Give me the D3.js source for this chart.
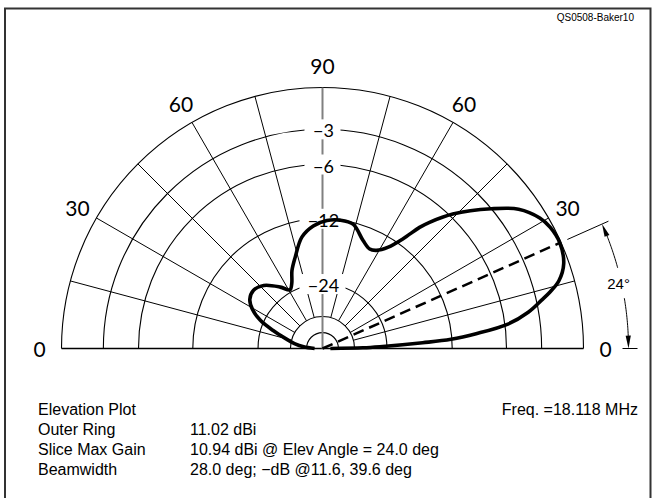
<!DOCTYPE html>
<html><head><meta charset="utf-8">
<script src="https://cdn.jsdelivr.net/npm/d3@7"></script>
<style>
html,body{margin:0;padding:0;background:#fff;}
svg{display:block;}
</style></head>
<body>
<svg id="chart" width="656" height="498"></svg>
<script>
// ---- data ----
const outerRingDbi = 11.02;
const elevAngles = [0, 1, 1.8, 3.3, 4.1, 5.5, 7.5, 10, 12.4, 14, 16, 19.4, 24, 28, 31, 35.4, 39.6, 45.9, 49.7, 51.3, 53.7, 57, 61.2, 64.6, 69.4, 76.2, 82.2, 88, 94.3, 100.5, 106.7, 111.4, 115.3, 119, 124.5, 133, 139.8, 146, 151, 155.6, 160, 165, 170, 175, 180];
const gainDbi =    [-88, -21, -15, -5.4, -1.1, 2.0, 5.3, 7.2, 8.4, 9.2, 10.0, 10.67, 10.94, 10.82, 10.52, 9.62, 8.02, 5.32, 3.2, 2.1, -0.15, -2.2, -3.5, -3.8, -3.0, -1.2, -1.0, -1.2, -1.9, -3.3, -6.3, -8.5, -11.1, -12.3, -10.5, -8.0, -7.2, -7.7, -9.3, -12.0, -16.5, -22, -27, -34, -88];
const ringDb = [0, -3, -6, -12, -24, -36, -48];
const ringLabels = ["", "\u22123", "\u22126", "\u221212", "\u221224", "", ""];
const spokeAngles = [15, 30, 45, 60, 75, 105, 120, 135, 150, 165];
const angleTickPos = [0, 30, 60, 90, 120, 150, 180];
const angleTickLabels = ["0", "30", "60", "90", "60", "30", "0"];
const maxGainAngle = 24.0;
const maxGainDbi = 10.94;
const infoLabels = ["Elevation Plot", "Outer Ring", "Slice Max Gain", "Beamwidth"];
const infoValues = ["", "11.02 dBi", "10.94 dBi @ Elev Angle = 24.0 deg", "28.0 deg; \u2212dB @11.6, 39.6 deg"];
const freqText = "Freq. =18.118 MHz";
const figId = "QS0508-Baker10";

// ---- layout ----
const svg = d3.select("#chart");
const cx = 322.5, cy = 348.5, R = 261;
const rel = d3.scaleLinear().domain([-60, 0]).range([-60, 0]).clamp(true);
const r = db => R * Math.pow(0.89, -rel(db) / 2);     // ARRL log scale
const rGain = g => r(g - outerRingDbi);
const rad = a => a * Math.PI / 180;
const px = (a, rr) => cx + rr * Math.cos(rad(a));
const py = (a, rr) => cy - rr * Math.sin(rad(a));
const polarFont = "Lato, 'Noto Sans', sans-serif";

// frame
svg.append("rect").attr("x", 5).attr("y", 8.5).attr("width", 645.5).attr("height", 495)
  .attr("fill", "none").attr("stroke", "#333").attr("stroke-width", 2);

const g = svg.append("g");

// rings (semicircles)
const arc = d3.arc().startAngle(-Math.PI / 2).endAngle(Math.PI / 2);
g.selectAll("path.ring").data(ringDb).join("path")
  .attr("class", "ring")
  .attr("transform", `translate(${cx},${cy})`)
  .attr("d", d => arc({innerRadius: r(d), outerRadius: r(d)}))
  .attr("fill", "none").attr("stroke", "#000").attr("stroke-width", 1.1);

// spokes
g.selectAll("line.spoke").data(spokeAngles).join("line")
  .attr("x1", d => px(d, r(-36))).attr("y1", d => py(d, r(-36)))
  .attr("x2", d => px(d, R)).attr("y2", d => py(d, R))
  .attr("stroke", "#000").attr("stroke-width", 1);

// baseline
g.append("line").attr("x1", cx - R).attr("x2", cx + R).attr("y1", cy).attr("y2", cy)
  .attr("stroke", "#000").attr("stroke-width", 1.5);
// vertical (90) gray
g.append("line").attr("x1", cx).attr("x2", cx).attr("y1", cy).attr("y2", cy - R)
  .attr("stroke", "#808080").attr("stroke-width", 2);

// ring label gaps
const lab = ringDb.map((d, i) => ({d, t: ringLabels[i]})).filter(o => o.t);
g.selectAll("rect.gap").data(lab).join("rect")
  .attr("x", d => cx - (d.t.length > 2 ? 23 : 18)).attr("width", d => d.t.length > 2 ? 46 : 36)
  .attr("y", d => cy - r(d.d) - 10).attr("height", 20).attr("fill", "#fff");

// ring labels
g.selectAll("text.rl").data(lab).join("text")
  .attr("x", cx + 1).attr("y", d => cy - r(d.d) + 1)
  .attr("text-anchor", "middle").attr("dominant-baseline", "central")
  .attr("font-family", polarFont).attr("font-weight", 400)
  .attr("font-size", 18).attr("fill", "#000").text(d => d.t);

// pattern
const pts = elevAngles.map((a, i) => [a, gainDbi[i]]);
const line = d3.lineRadial()
  .angle(d => rad(90 - d[0]))
  .radius(d => rGain(d[1]))
  .curve(d3.curveCatmullRom.alpha(0.5));
g.append("path").datum(pts)
  .attr("transform", `translate(${cx},${cy})`)
  .attr("d", line)
  .attr("fill", "none").attr("stroke", "#000").attr("stroke-width", 3.6).attr("stroke-linejoin", "round");

// max-gain dashed line
g.append("line").attr("x1", cx).attr("y1", cy)
  .attr("x2", px(maxGainAngle, rGain(maxGainDbi))).attr("y2", py(maxGainAngle, rGain(maxGainDbi)))
  .attr("stroke", "#000").attr("stroke-width", 2.5).attr("stroke-dasharray", "11,6");

// angle labels
const LR = 283;
g.selectAll("text.al").data(angleTickPos).join("text")
  .attr("x", d => px(d, LR)).attr("y", d => py(d, LR))
  .attr("text-anchor", "middle").attr("dominant-baseline", "central")
  .attr("font-family", polarFont).attr("font-weight", 400)
  .attr("font-size", 21).attr("fill", "#000").text((d, i) => angleTickLabels[i]);

// 24 deg annotation
const ext = svg.append("g").attr("stroke", "#000").attr("stroke-width", 1);
ext.append("line").attr("x1", px(maxGainAngle, 268)).attr("y1", py(maxGainAngle, 268))
  .attr("x2", px(maxGainAngle, 313)).attr("y2", py(maxGainAngle, 313));
ext.append("line").attr("x1", px(0, 300)).attr("y1", py(0, 300))
  .attr("x2", px(0, 315)).attr("y2", py(0, 315));
const AR = 306;
const arcLine = d3.lineRadial().angle(d => rad(90 - d)).radius(AR).curve(d3.curveLinear);
const seg1 = d3.range(15.3, maxGainAngle - 2.2, 0.3).concat([maxGainAngle - 2.2]);
const seg2 = d3.range(2.2, 9.5, 0.3).concat([9.5]);
[seg1, seg2].forEach(s => ext.append("path").datum(s)
  .attr("transform", `translate(${cx},${cy})`).attr("d", arcLine).attr("fill", "none"));
// arrowheads
function arrowHead(tipAngle, dir) {
  const baseA = tipAngle - dir * 2.4;
  const tx = px(tipAngle, AR), ty = py(tipAngle, AR);
  const bx = px(baseA, AR), by = py(baseA, AR);
  const nx = Math.cos(rad(baseA)), ny = -Math.sin(rad(baseA));
  const w = 2.6;
  svg.append("path")
    .attr("d", `M${tx},${ty}L${bx + nx * w},${by + ny * w}L${bx - nx * w},${by - ny * w}Z`)
    .attr("fill", "#000");
}
arrowHead(maxGainAngle, 1);
arrowHead(0, -1);
svg.append("text").attr("x", px(12.2, AR) - 3).attr("y", py(12.2, AR))
  .attr("text-anchor", "middle").attr("dominant-baseline", "central")
  .attr("font-family", "'Liberation Sans', Arial, sans-serif").attr("font-size", 15)
  .text(Math.round(maxGainAngle) + "\u00b0");

// figure id
svg.append("text").attr("x", 634).attr("y", 21).attr("text-anchor", "end")
  .attr("font-family", "'Liberation Sans', Arial, sans-serif").attr("font-size", 10)
  .text(figId);

// info block
const info = svg.append("g").attr("font-family", "'Liberation Sans', Arial, sans-serif").attr("font-size", 16).attr("fill", "#000");
info.selectAll("text.k").data(infoLabels).join("text")
  .attr("x", 38).attr("y", (d, i) => 415 + i * 20).text(d => d);
info.selectAll("text.v").data(infoValues).join("text")
  .attr("x", 190).attr("y", (d, i) => 415 + i * 20).text(d => d);
info.append("text").attr("x", 638).attr("y", 415).attr("text-anchor", "end").text(freqText);
</script>
</body></html>
